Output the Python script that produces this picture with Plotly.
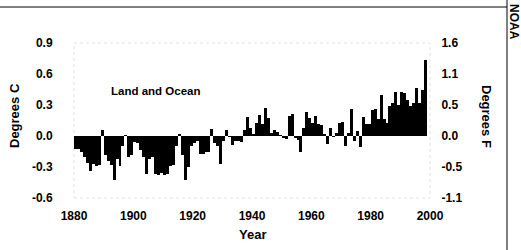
import plotly.graph_objects as go

years = list(range(1880, 1999))
anomaly_c = [
    -0.13, -0.13, -0.15, -0.20, -0.26, -0.34, -0.27, -0.29, -0.28, 0.06,
    -0.18, -0.24, -0.28, -0.43, -0.22, -0.29, -0.10, 0.01, -0.20, -0.18,
    -0.06, -0.07, -0.14, -0.20, -0.37, -0.22, -0.20, -0.37, -0.38, -0.36,
    -0.38, -0.37, -0.29, -0.28, -0.10, 0.02, -0.18, -0.43, -0.30, -0.10,
    -0.07, -0.05, -0.17, -0.17, -0.15, -0.15, 0.07, -0.07, -0.10, -0.27,
    -0.05, 0.06, -0.01, -0.09, -0.05, -0.05, -0.06, 0.06, 0.18, 0.08,
    0.02, 0.13, 0.20, 0.12, 0.27, 0.17, 0.03, 0.06, 0.04, 0.01,
    -0.02, -0.03, 0.19, 0.21, -0.02, -0.04, -0.15, 0.08, 0.23, 0.17,
    0.13, 0.19, 0.12, 0.11, 0.02, -0.08, 0.08, -0.01, 0.03, 0.13,
    0.14, -0.10, 0.03, 0.26, -0.05, 0.05, -0.11, 0.18, 0.12, 0.12,
    0.25, 0.26, 0.16, 0.40, 0.16, 0.13, 0.29, 0.32, 0.43, 0.30,
    0.43, 0.42, 0.35, 0.29, 0.32, 0.46, 0.32, 0.45, 0.74,
]
c_ticks = [-0.6, -0.3, 0.0, 0.3, 0.6, 0.9]
c_labels = ["-0.6", "-0.3", "0.0", "0.3", "0.6", "0.9"]
f_labels = ["-1.1", "-0.5", "0.0", "0.5", "1.1", "1.6"]
x_ticks = [1880, 1900, 1920, 1940, 1960, 1980, 2000]

assert len(years) == len(anomaly_c)

FONT = "Liberation Sans"
L, R, T, B = 74, 91, 43, 52
W, H = 521, 250
PW, PH = W - L - R, H - T - B


def px(x):
    return (x - L) / PW


def py(y):
    return (H - B - y) / PH


def tf(size):
    return dict(family=FONT, size=size, color="black", weight="bold")


fig = go.Figure()
fig.add_trace(go.Bar(
    x=years, y=anomaly_c, width=1, offset=0,
    marker=dict(color="black", line=dict(width=0)),
    showlegend=False, hoverinfo="skip",
))
fig.add_trace(go.Scatter(x=[1880], y=[0], yaxis="y2", mode="markers",
                         marker=dict(opacity=0), showlegend=False, hoverinfo="skip"))

fig.update_layout(
    width=W, height=H,
    margin=dict(l=L, r=R, t=T, b=B, autoexpand=False),
    paper_bgcolor="white", plot_bgcolor="white",
    bargap=0,
    xaxis=dict(range=[1880, 2000], tickvals=x_ticks, showgrid=False, zeroline=False,
               showline=False, ticks="outside", ticklen=7, tickcolor="rgba(0,0,0,0)",
               tickfont=tf(12), automargin=False),
    yaxis=dict(range=[-0.6, 0.9], tickvals=c_ticks, ticktext=c_labels, showgrid=False,
               zeroline=False, showline=False, ticks="outside", ticklen=18,
               tickcolor="rgba(0,0,0,0)", tickfont=tf(12), automargin=False),
    yaxis2=dict(range=[-0.6, 0.9], tickvals=c_ticks, ticktext=f_labels, overlaying="y",
                side="right", showgrid=False, zeroline=False, showline=False,
                ticks="outside", ticklen=8, tickcolor="rgba(0,0,0,0)",
                tickfont=tf(12), automargin=False),
    shapes=[
        dict(type="rect", xref="paper", yref="paper", x0=0, x1=1, y0=0, y1=1,
             line=dict(color="#e2e2e2", width=1, dash="dot"), layer="below"),
        dict(type="line", xref="paper", yref="paper", x0=px(0), x1=px(507),
             y0=py(7), y1=py(7), line=dict(color="black", width=1)),
        dict(type="line", xref="paper", yref="paper", x0=px(507), x1=px(507),
             y0=py(250), y1=py(0), line=dict(color="black", width=1)),
    ],
    annotations=[
        dict(text="Land and Ocean", x=1907.5, y=0.44, xref="x", yref="y",
             xanchor="center", yanchor="middle", showarrow=False, font=tf(11.5)),
        dict(text="Degrees C", x=px(14), y=py(116), xref="paper", yref="paper",
             xanchor="center", yanchor="middle", showarrow=False, textangle=-90, font=tf(13)),
        dict(text="Degrees F", x=px(487), y=py(116), xref="paper", yref="paper",
             xanchor="center", yanchor="middle", showarrow=False, textangle=90, font=tf(13)),
        dict(text="Year", x=1940, y=py(234), xref="x", yref="paper", showarrow=False,
             xanchor="center", yanchor="middle", font=tf(13)),
        dict(text="NOAA", x=px(514), y=py(2), xref="paper", yref="paper", showarrow=False,
             xanchor="center", yanchor="top", textangle=90, font=tf(12)),
    ],
)

fig.write_html("out.html", config={"displayModeBar": False, "staticPlot": True},
               post_script="document.body.style.margin='0';document.body.style.overflow='hidden';")
